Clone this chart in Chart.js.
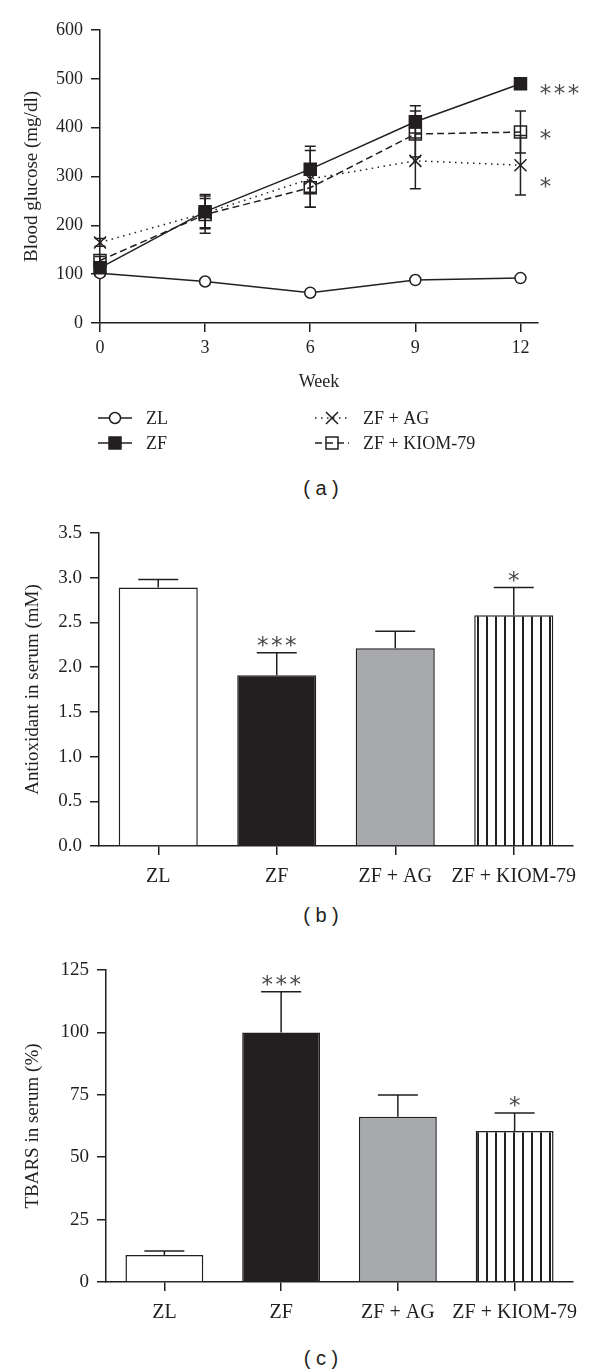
<!DOCTYPE html>
<html>
<head>
<meta charset="utf-8">
<script src="https://cdn.jsdelivr.net/npm/chart.js@4.4.1/dist/chart.umd.min.js"></script>
<style>
  body { margin: 0; background: #fff; width: 600px; height: 1372px; position: relative; overflow: hidden; }
  canvas { position: absolute; left: 0; }
  .cap { position: absolute; left: 271px; width: 100px; text-align: center; font: 20px "Liberation Sans", Arial, sans-serif; color: #231f20; line-height: 22px; }
</style>
</head>
<body>
<canvas id="glucose" width="600" height="470" style="top:0"></canvas>
<div class="cap" style="top:477px">( a )</div>
<canvas id="antiox" width="600" height="400" style="top:500px"></canvas>
<div class="cap" style="top:904px">( b )</div>
<canvas id="tbars" width="600" height="400" style="top:940px"></canvas>
<div class="cap" style="top:1347px">( c )</div>

<script>
// (a) blood glucose by week
const weeks = [0, 3, 6, 9, 12];
const zlGlucose = [102, 85, 62, 88, 92];
const zlGlucoseErr = [5, 4, 4, 4, 4];
const zfGlucose = [113, 228, 315, 412, 490];
const zfGlucoseErr = [10, 35, 47, 33, 10];
const agGlucose = [165, 225, 295, 332, 323];
const agGlucoseErr = [8, 30, 58, 57, 61];
const kiomGlucose = [128, 222, 277, 387, 391];
const kiomGlucoseErr = [8, 38, 40, 47, 43];
const glucoseSig = ['', '***', '*', '*']; // ZL, ZF, AG, KIOM at week 12

// (b) and (c)
const groups = ['ZL', 'ZF', 'ZF + AG', 'ZF + KIOM-79'];
const antioxidant = [2.89, 1.91, 2.21, 2.58];
const antioxidantErr = [0.09, 0.25, 0.19, 0.31];
const antioxidantSig = ['', '***', '', '*'];
const tbars = [10.8, 100, 66.2, 60.5];
const tbarsErr = [1.6, 16.3, 8.7, 7.2];
const tbarsSig = ['', '***', '', '*'];

const ink = '#231f20';
const serif = '"Liberation Serif", "Times New Roman", serif';

function drawStars(ctx, text, cx, cy) {
  ctx.save();
  ctx.font = '23px "DejaVu Sans", sans-serif';
  ctx.fillStyle = '#4a4a4a';
  ctx.textAlign = 'center';
  ctx.textBaseline = 'alphabetic';
  const n = text.length;
  for (let k = 0; k < n; k++) {
    ctx.fillText('*', cx + (k - (n - 1) / 2) * 14, cy + 14);
  }
  ctx.restore();
}

const valueOf = (d) => (typeof d === 'object' ? d.y : d);

// error bars: both directions for the line chart, upward for bars
const errorBars = {
  id: 'errorBars',
  beforeDatasetsDraw(chart, args, opts) {
    if (!opts.both) return;
    this.paint(chart, opts);
  },
  afterDatasetsDraw(chart, args, opts) {
    if (opts.both) return;
    this.paint(chart, opts);
  },
  paint(chart, opts) {
    const { ctx } = chart;
    const y = chart.scales.y;
    ctx.save();
    ctx.strokeStyle = ink;
    ctx.lineWidth = 1.5;
    chart.data.datasets.forEach((ds, i) => {
      if (!ds.errors) return;
      chart.getDatasetMeta(i).data.forEach((el, j) => {
        const v = valueOf(ds.data[j]);
        const e = ds.errors[j];
        const hi = y.getPixelForValue(v + e);
        const lo = opts.both ? y.getPixelForValue(v - e) : y.getPixelForValue(v);
        ctx.beginPath();
        ctx.moveTo(el.x, lo); ctx.lineTo(el.x, hi);
        ctx.moveTo(el.x - opts.cap, hi); ctx.lineTo(el.x + opts.cap, hi);
        if (opts.both) { ctx.moveTo(el.x - opts.cap, lo); ctx.lineTo(el.x + opts.cap, lo); }
        ctx.stroke();
      });
    });
    ctx.restore();
  }
};

// significance marks
const sigMarks = {
  id: 'sigMarks',
  afterDraw(chart, args, opts) {
    const { ctx } = chart;
    const y = chart.scales.y;
    if (opts.mode === 'line') {
      chart.data.datasets.forEach((ds, i) => {
        const s = opts.marks[i];
        if (!s) return;
        const pts = chart.getDatasetMeta(i).data;
        const last = pts[pts.length - 1];
        const w = (s.length - 1) * 14;
        drawStars(ctx, s, last.x + 25 + w / 2, last.y + (opts.dy[i] || 0));
      });
    } else {
      const ds = chart.data.datasets[0];
      chart.getDatasetMeta(0).data.forEach((el, j) => {
        const s = opts.marks[j];
        if (!s) return;
        const top = y.getPixelForValue(ds.data[j] + ds.errors[j]);
        drawStars(ctx, s, el.x, top - opts.gap);
      });
    }
  }
};

// two-column legend below panel (a)
const lineLegend = {
  id: 'lineLegend',
  afterDraw(chart, args, opts) {
    const { ctx } = chart;
    ctx.save();
    opts.items.forEach((item, k) => {
      const ds = chart.data.datasets[item];
      const x0 = opts.cols[Math.floor(k / 2)];
      const yy = opts.rows[k % 2];
      ctx.strokeStyle = ink;
      ctx.lineWidth = ds.borderWidth;
      ctx.setLineDash(ds.borderDash || []);
      ctx.beginPath();
      ctx.moveTo(x0, yy); ctx.lineTo(x0 + opts.icon, yy);
      ctx.stroke();
      ctx.setLineDash([]);
      ctx.fillStyle = ds.pointBackgroundColor;
      ctx.lineWidth = ds.pointBorderWidth;
      Chart.helpers.drawPoint(ctx, {
        pointStyle: ds.pointStyle, radius: ds.pointRadius, rotation: 0, borderWidth: ds.pointBorderWidth
      }, x0 + opts.icon / 2, yy);
      ctx.fillStyle = ink;
      ctx.font = '18px ' + serif;
      ctx.textAlign = 'left';
      ctx.textBaseline = 'middle';
      ctx.fillText(ds.label, x0 + opts.icon + 14, yy + 1);
    });
    ctx.restore();
  }
};

function axisStyle(size) {
  return {
    grid: { drawOnChartArea: false, tickLength: 9, color: ink, lineWidth: 1.5 },
    border: { color: ink, width: 1.5 },
    ticks: { color: ink, font: { family: serif, size: size } }
  };
}

function series(label, values, errors, extra) {
  return Object.assign({
    label: label,
    data: weeks.map((w, i) => ({ x: w, y: values[i] })),
    errors: errors,
    borderColor: ink,
    borderWidth: 1.5,
    pointBorderColor: ink,
    pointBorderWidth: 1.5,
    tension: 0,
    clip: false
  }, extra);
}

const gx = axisStyle(18), gy = axisStyle(18);
new Chart(document.getElementById('glucose'), {
  type: 'line',
  data: {
    datasets: [
      series('ZL', zlGlucose, zlGlucoseErr, { pointStyle: 'circle', pointRadius: 5.5, pointBackgroundColor: '#fff', order: 3 }),
      series('ZF', zfGlucose, zfGlucoseErr, { pointStyle: 'rect', pointRadius: 8.5, pointBackgroundColor: ink, order: 0 }),
      series('ZF + AG', agGlucose, agGlucoseErr, { pointStyle: 'crossRot', pointRadius: 8.5, pointBackgroundColor: ink, borderDash: [1.5, 4.5], order: 2 }),
      series('ZF + KIOM-79', kiomGlucose, kiomGlucoseErr, { pointStyle: 'rect', pointRadius: 8.5, pointBackgroundColor: 'rgba(0,0,0,0)', borderDash: [7, 4], order: 1 })
    ]
  },
  options: {
    responsive: false,
    animation: false,
    layout: { padding: { left: 17, right: 62, top: 30, bottom: 73 } },
    plugins: {
      legend: { display: false },
      tooltip: { enabled: false },
      errorBars: { both: true, cap: 5.5 },
      sigMarks: { mode: 'line', marks: glucoseSig, dy: [0, 3, 15, 0] },
      lineLegend: { items: [0, 1, 2, 3], cols: [98, 315], rows: [418, 443], icon: 34 }
    },
    scales: {
      x: Object.assign(gx, {
        type: 'linear', min: 0, max: 12.5,
        afterBuildTicks: (s) => { s.ticks = weeks.map((v) => ({ value: v })); },
        afterFit: (s) => { s.height = 74; },
        ticks: Object.assign(gx.ticks, { padding: 5 }),
        title: { display: true, text: 'Week', color: ink, font: { family: serif, size: 18 } }
      }),
      y: Object.assign(gy, {
        min: 0, max: 600,
        afterFit: (s) => { s.width = 83; },
        ticks: Object.assign(gy.ticks, { stepSize: 100, padding: 8 }),
        title: { display: true, text: 'Blood glucose (mg/dl)', color: ink, font: { family: serif, size: 19 } }
      })
    }
  },
  plugins: [errorBars, sigMarks, lineLegend]
});

function stripes() {
  const c = document.createElement('canvas');
  c.width = 9; c.height = 9;
  const g = c.getContext('2d');
  g.fillStyle = '#fff'; g.fillRect(0, 0, 9, 9);
  g.fillStyle = ink; g.fillRect(0, 0, 2, 9);
  return g.createPattern(c, 'repeat');
}

function barChart(id, values, errors, marks, yMax, yStep, yTitle, fmt, pad) {
  const bx = axisStyle(pad.xf), by = axisStyle(19);
  return new Chart(document.getElementById(id), {
    type: 'bar',
    data: {
      labels: groups,
      datasets: [{
        data: values,
        errors: errors,
        backgroundColor: ['#fff', ink, '#a7a9ac', stripes()],
        borderColor: ink,
        borderWidth: 1.5,
        barPercentage: 0.667,
        categoryPercentage: 1
      }]
    },
    options: {
      responsive: false,
      animation: false,
      layout: { padding: { left: 18, right: 27, top: pad.top, bottom: 0 } },
      plugins: {
        legend: { display: false },
        tooltip: { enabled: false },
        errorBars: { both: false, cap: 20 },
        sigMarks: { mode: 'bar', marks: marks, gap: 14 }
      },
      scales: {
        x: Object.assign(bx, {
          grid: Object.assign(bx.grid, { offset: false }),
          afterFit: (s) => { s.height = pad.xh; },
          ticks: Object.assign(bx.ticks, { padding: 10, autoSkip: false, maxRotation: 0, minRotation: 0 })
        }),
        y: Object.assign(by, {
          min: 0, max: yMax,
          afterFit: (s) => { s.width = pad.yw; },
          ticks: Object.assign(by.ticks, { stepSize: yStep, padding: 8, callback: fmt }),
          title: { display: true, text: yTitle, color: ink, font: { family: serif, size: 19 } }
        })
      }
    },
    plugins: [errorBars, sigMarks]
  });
}

barChart('antiox', antioxidant, antioxidantErr, antioxidantSig, 3.5, 0.5,
  'Antioxidant in serum (mM)', (v) => v.toFixed(1), { top: 33, xh: 54, yw: 81, xf: 20 });
barChart('tbars', tbars, tbarsErr, tbarsSig, 125, 25,
  'TBARS in serum (%)', (v) => String(v), { top: 30, xh: 58, yw: 88, xf: 20 });
</script>
</body>
</html>
